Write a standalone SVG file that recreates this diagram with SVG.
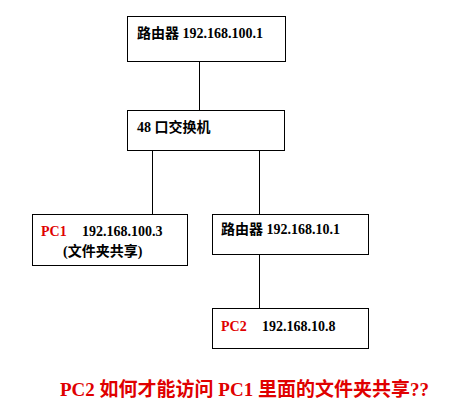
<svg xmlns="http://www.w3.org/2000/svg" width="451" height="414" viewBox="0 0 451 414">
<style>
.box{fill:#fff;stroke:#000;stroke-width:1}
.t{font-family:"Liberation Serif","Noto Sans CJK SC",serif;font-weight:bold;font-size:14px;fill:#000}
.r{fill:#e00000}
.conn line{stroke:#000;stroke-width:1}
</style>
<rect width="451" height="414" fill="#fff"/>
<g class="conn">
<line x1="199.5" y1="62" x2="199.5" y2="110"/>
<line x1="152.5" y1="151" x2="152.5" y2="214"/>
<line x1="259.5" y1="151" x2="259.5" y2="214"/>
<line x1="259.5" y1="255" x2="259.5" y2="308"/>
</g>
<g id="router1">
<rect class="box" x="127.5" y="16.5" width="158" height="45"/>
<text class="t" x="137" y="38">路由器 192.168.100.1</text>
</g>
<g id="switch">
<rect class="box" x="127.5" y="110.5" width="157" height="40"/>
<text class="t" x="137" y="132">48 口交换机</text>
</g>
<g id="pc1">
<rect class="box" x="32.5" y="214.5" width="155" height="51"/>
<text class="t r" x="41" y="236">PC1</text>
<text class="t" x="82" y="236">192.168.100.3</text>
<text class="t" x="63" y="256">(文件夹共享)</text>
</g>
<g id="router2">
<rect class="box" x="212.5" y="214.5" width="156" height="40"/>
<text class="t" x="221" y="234">路由器 192.168.10.1</text>
</g>
<g id="pc2">
<rect class="box" x="212.5" y="308.5" width="156" height="40"/>
<text class="t r" x="221" y="331">PC2</text>
<text class="t" x="262" y="331">192.168.10.8</text>
</g>
<text class="t r" x="60" y="396" style="font-size:19px">PC2 如何才能访问 PC1 里面的文件夹共享??</text>
</svg>
